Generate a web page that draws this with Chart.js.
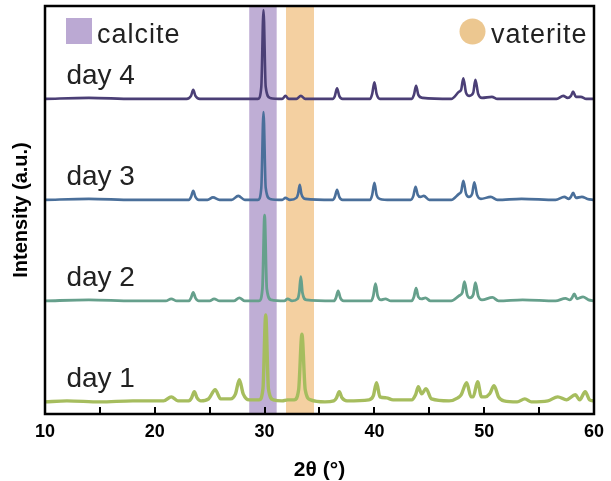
<!DOCTYPE html>
<html>
<head>
<meta charset="utf-8">
<script src="https://cdn.jsdelivr.net/npm/chart.js@4/dist/chart.umd.min.js"></script>
<style>
  html, body { margin: 0; padding: 0; background: #fff; }
  #wrap { width: 611px; height: 481px; }
</style>
</head>
<body>
<div id="wrap"><canvas id="myChart" width="611" height="481"></canvas></div>
<script>
"use strict";

// 2theta (deg) and intensity (a.u., 1 = spacing between traces)
const day1Theta = [10.0, 12.0, 15.0, 18.0, 20.8, 21.5, 22.1, 23.1, 23.35, 23.6, 23.85, 24.2, 24.9, 25.5, 26.0,
  26.9, 27.35, 27.7, 28.05, 28.6, 29.5, 29.85, 30.1, 30.35, 30.8, 31.6, 32.1, 32.7, 33.1, 33.4, 33.7, 34.2,
  35.5, 36.3, 36.55, 36.8, 37.05, 37.5, 39.5, 39.9, 40.2, 40.5, 41.1, 41.7, 43.4, 43.75, 44.0, 44.3, 44.7,
  45.2, 46.8, 47.6, 47.9, 48.4, 48.8, 49.0, 49.4, 49.75, 50.1, 50.5, 50.9, 51.3, 51.8, 53.0, 53.7, 54.3,
  55.8, 56.7, 57.5, 58.3, 58.7, 59.2, 59.6, 60.0];
const day1Int = [0.00, 0.01, 0.00, 0.01, 0.01, 0.05, 0.01, 0.01, 0.04, 0.10, 0.04, 0.01, 0.03, 0.12, 0.03,
  0.03, 0.08, 0.22, 0.08, 0.02, 0.02, 0.13, 0.86, 0.13, 0.02, 0.01, 0.02, 0.02, 0.12, 0.67, 0.12, 0.02,
  0.00, 0.01, 0.04, 0.10, 0.04, 0.01, 0.02, 0.06, 0.19, 0.05, 0.04, 0.02, 0.02, 0.07, 0.15, 0.08, 0.13,
  0.03, 0.01, 0.04, 0.07, 0.19, 0.05, 0.05, 0.20, 0.05, 0.05, 0.08, 0.16, 0.05, 0.01, 0.00, 0.03, 0.00,
  0.01, 0.05, 0.02, 0.07, 0.02, 0.10, 0.02, 0.01];

const day2Theta = [10.0, 14.0, 18.0, 21.0, 21.5, 22.0, 23.1, 23.3, 23.5, 23.7, 24.0, 25.0, 25.4, 25.9, 27.2,
  27.7, 28.2, 29.5, 29.8, 30.0, 30.2, 30.6, 31.8, 32.1, 32.5, 33.0, 33.15, 33.3, 33.45, 33.8, 36.3, 36.5,
  36.7, 36.9, 37.2, 39.7, 39.9, 40.1, 40.3, 40.6, 41.0, 41.5, 43.4, 43.6, 43.8, 44.0, 44.3, 44.65, 45.1,
  47.0, 47.7, 48.0, 48.2, 48.45, 48.7, 49.0, 49.2, 49.45, 49.8, 50.75, 51.3, 53.5, 56.5, 57.4, 57.8, 58.0,
  58.2, 58.45, 59.0, 59.5, 60.0];
const day2Int = [0.00, 0.01, 0.00, 0.00, 0.02, 0.00, 0.00, 0.03, 0.085, 0.03, 0.00, 0.00, 0.02, 0.00, 0.00,
  0.03, 0.00, 0.00, 0.12, 0.85, 0.12, 0.01, 0.00, 0.02, 0.00, 0.02, 0.08, 0.24, 0.08, 0.01, 0.00, 0.03,
  0.10, 0.03, 0.00, 0.00, 0.05, 0.17, 0.05, 0.01, 0.02, 0.00, 0.00, 0.04, 0.125, 0.04, 0.02, 0.03, 0.00,
  0.00, 0.05, 0.08, 0.19, 0.06, 0.03, 0.06, 0.18, 0.05, 0.01, 0.035, 0.00, 0.01, 0.00, 0.025, 0.01, 0.03,
  0.07, 0.02, 0.04, 0.01, 0.00];

const day3Theta = [10.0, 14.0, 18.0, 21.0, 23.1, 23.3, 23.5, 23.7, 24.0, 24.8, 25.3, 25.9, 27.0, 27.6, 28.2,
  29.4, 29.7, 29.9, 30.1, 30.5, 31.6, 31.9, 32.3, 32.9, 33.05, 33.2, 33.35, 33.7, 36.2, 36.4, 36.6, 36.8,
  37.1, 39.6, 39.8, 40.0, 40.2, 40.5, 41.5, 43.3, 43.55, 43.75, 43.95, 44.2, 44.5, 45.0, 47.0, 47.7, 47.9,
  48.1, 48.35, 48.6, 48.9, 49.1, 49.35, 49.7, 50.6, 51.2, 53.4, 56.5, 57.3, 57.7, 57.9, 58.1, 58.35, 58.9,
  59.4, 60.0];
const day3Int = [0.00, 0.01, 0.00, 0.00, 0.00, 0.03, 0.09, 0.03, 0.00, 0.00, 0.025, 0.00, 0.00, 0.04, 0.00,
  0.00, 0.12, 0.87, 0.12, 0.01, 0.00, 0.02, 0.00, 0.02, 0.06, 0.15, 0.06, 0.01, 0.00, 0.03, 0.10, 0.03,
  0.00, 0.00, 0.05, 0.17, 0.05, 0.01, 0.00, 0.00, 0.04, 0.13, 0.05, 0.03, 0.04, 0.00, 0.00, 0.06, 0.08,
  0.19, 0.06, 0.03, 0.06, 0.175, 0.05, 0.01, 0.03, 0.00, 0.01, 0.00, 0.03, 0.01, 0.03, 0.07, 0.02, 0.03,
  0.01, 0.00];

const day4Theta = [10.0, 14.0, 18.0, 22.9, 23.3, 23.5, 23.7, 24.1, 29.4, 29.7, 29.9, 30.1, 30.5, 31.6, 31.9,
  32.2, 32.9, 33.3, 33.7, 36.2, 36.4, 36.6, 36.8, 37.1, 39.6, 39.8, 40.0, 40.2, 40.5, 43.4, 43.6, 43.8,
  44.0, 44.4, 47.0, 47.7, 47.9, 48.1, 48.35, 48.65, 49.0, 49.2, 49.45, 49.8, 50.7, 51.2, 56.6, 57.2, 57.6,
  57.9, 58.1, 58.35, 58.8, 59.3, 60.0];
const day4Int = [0.00, 0.01, 0.00, 0.00, 0.03, 0.09, 0.03, 0.00, 0.00, 0.12, 0.88, 0.12, 0.01, 0.00, 0.03,
  0.00, 0.00, 0.03, 0.00, 0.00, 0.03, 0.105, 0.03, 0.00, 0.00, 0.05, 0.165, 0.05, 0.00, 0.00, 0.04, 0.13,
  0.04, 0.01, 0.00, 0.07, 0.09, 0.205, 0.06, 0.03, 0.06, 0.19, 0.05, 0.01, 0.02, 0.00, 0.00, 0.03, 0.01,
  0.03, 0.072, 0.02, 0.02, 0.00, 0.00];

const dayLabels = ["day 1", "day 2", "day 3", "day 4"];
const dayOffsets = [0, 1, 2, 3];
const dayColors = ["#a6bd5e", "#66a08c", "#4a6f9a", "#4b3f76"];
const dayWidths = [3.4, 2.8, 2.6, 2.6];

const calciteBand = [28.6, 31.1];
const vateriteBand = [31.95, 34.5];
const xTickMarks = [15, 20, 25, 30, 35, 40, 45, 50, 55];

const FONT = "'Liberation Sans', Arial, sans-serif";

window.addEventListener("DOMContentLoaded", init);

function init() {
  const thetas = [day1Theta, day2Theta, day3Theta, day4Theta];
  const ints = [day1Int, day2Int, day3Int, day4Int];

  let datasets = [];
  for (let i = 0; i < dayLabels.length; i++) {
    let pts = [];
    for (let j = 0; j < thetas[i].length; j++) {
      pts.push({ x: thetas[i][j], y: ints[i][j] + dayOffsets[i] });
    }
    datasets.push({
      label: dayLabels[i],
      data: pts,
      borderColor: dayColors[i],
      borderWidth: dayWidths[i],
      pointRadius: 0,
      fill: false,
      cubicInterpolationMode: "monotone",
      borderJoinStyle: "round",
    });
  }

  const decorPlugin = {
    id: "decor",
    beforeDatasetsDraw(chart) {
      const ctx = chart.ctx;
      const area = chart.chartArea;
      const xs = chart.scales.x;
      ctx.save();
      ctx.fillStyle = "#bfaed5";
      let a = xs.getPixelForValue(calciteBand[0]);
      let b = xs.getPixelForValue(calciteBand[1]);
      ctx.fillRect(a, area.top, b - a, area.bottom - area.top);
      ctx.fillStyle = "#f4d0a1";
      a = xs.getPixelForValue(vateriteBand[0]);
      b = xs.getPixelForValue(vateriteBand[1]);
      ctx.fillRect(a, area.top, b - a, area.bottom - area.top);
      ctx.restore();
    },
    afterDatasetsDraw(chart) {
      const ctx = chart.ctx;
      const area = chart.chartArea;
      const xs = chart.scales.x;
      const ys = chart.scales.y;
      ctx.save();
      // frame
      ctx.strokeStyle = "#000";
      ctx.lineWidth = 2.5;
      ctx.strokeRect(area.left, area.top, area.right - area.left, area.bottom - area.top);
      // inward ticks
      ctx.lineWidth = 2;
      ctx.beginPath();
      for (let t of xTickMarks) {
        let px = Math.round(xs.getPixelForValue(t));
        ctx.moveTo(px, area.bottom);
        ctx.lineTo(px, area.bottom - 7);
      }
      ctx.stroke();

      // day labels
      ctx.fillStyle = "#222";
      ctx.font = "28px " + FONT;
      ctx.textBaseline = "alphabetic";
      ctx.textAlign = "left";
      for (let i = 0; i < dayLabels.length; i++) {
        ctx.fillText(dayLabels[i], xs.getPixelForValue(11.95), ys.getPixelForValue(dayOffsets[i] + 0.15));
      }

      // legend
      ctx.fillStyle = "#bba9d3";
      ctx.fillRect(66, 18, 26, 26);
      ctx.fillStyle = "#ecc790";
      ctx.beginPath();
      ctx.arc(472.5, 31.5, 13, 0, Math.PI * 2);
      ctx.fill();
      ctx.fillStyle = "#222";
      ctx.font = "27px " + FONT;
      ctx.letterSpacing = "1px";
      ctx.fillText("calcite", 97, 43);
      ctx.fillText("vaterite", 491, 43);
      ctx.restore();
    },
  };

  const ctx = document.getElementById("myChart").getContext("2d");
  const myChart = new Chart(ctx, {
    type: "line",
    data: { datasets: datasets },
    options: {
      responsive: false,
      animation: false,
      devicePixelRatio: 1,
      layout: { padding: { top: 6, right: 13, left: 0, bottom: 0 } },
      plugins: { legend: { display: false }, tooltip: { enabled: false } },
      scales: {
        x: {
          type: "linear",
          min: 10,
          max: 60,
          grid: { display: false, drawTicks: false },
          border: { display: false },
          ticks: {
            stepSize: 10,
            padding: 7,
            color: "#000",
            font: { family: FONT, size: 18, weight: "bold" },
          },
          title: {
            display: true,
            text: "2θ (°)",
            color: "#000",
            font: { family: FONT, size: 21, weight: "bold", lineHeight: 1.0 },
            padding: { top: 0, bottom: 0 },
          },
          afterFit(scale) {
            scale.height = 67;
          },
        },
        y: {
          type: "linear",
          min: -0.12,
          max: 3.92,
          grid: { display: false, drawTicks: false },
          border: { display: false },
          ticks: { display: false },
          title: {
            display: true,
            text: "Intensity (a.u.)",
            color: "#000",
            font: { family: FONT, size: 20, weight: "bold", lineHeight: 1.0 },
            padding: { top: 11, bottom: 0 },
          },
          afterFit(scale) {
            scale.width = 45;
          },
        },
      },
    },
    plugins: [decorPlugin],
  });
}
</script>
</body>
</html>
